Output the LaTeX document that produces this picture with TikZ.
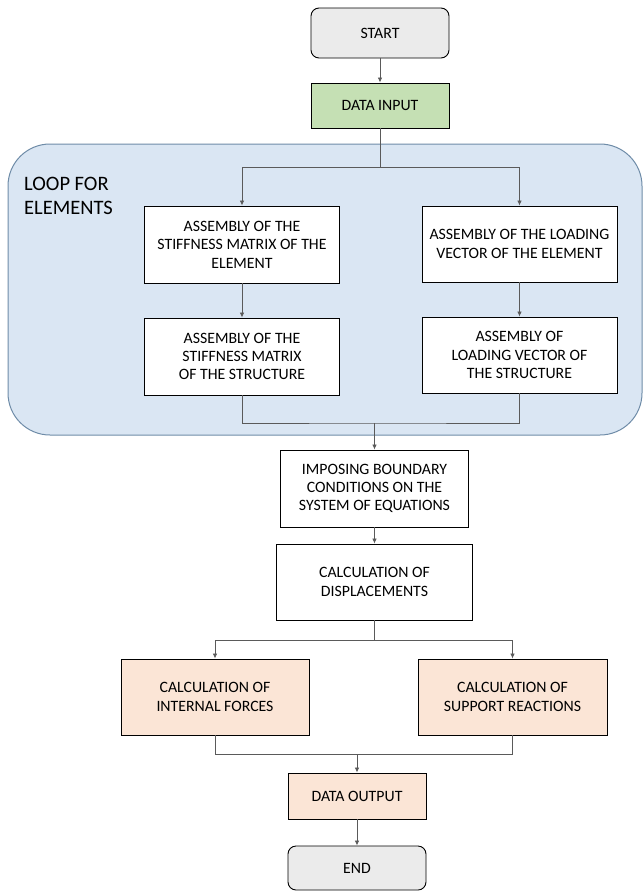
\documentclass[tikz,border=0pt]{standalone}
\usepackage{fontspec}
\setmainfont{Carlito}
\usetikzlibrary{arrows.meta}
\definecolor{termfill}{HTML}{EBEBEB}
\definecolor{greenfill}{HTML}{C5E0B4}
\definecolor{salmonfill}{HTML}{FBE5D6}
\definecolor{loopfill}{HTML}{DAE6F3}
\definecolor{loopdraw}{HTML}{6F8CA8}
\definecolor{conn}{HTML}{5A5A5A}
\tikzset{
  procbox/.style={draw=black, line width=0.9pt, fill=white, align=center, inner sep=0pt,
    font=\fontsize{15.8}{18.4}\selectfont},
  termbox/.style={procbox, fill=termfill, rounded corners=8pt},
  link/.style={draw=conn, line width=0.8pt},
  arr/.style={link, -{Latex[length=5pt,width=4.5pt]}}
}
\begin{document}
\begin{tikzpicture}[x=1pt,y=-1pt]
\useasboundingbox (0,0) rectangle (643,892);
% loop region
\draw[fill=loopfill, draw=loopdraw, line width=1pt, rounded corners=42pt] (8,144) rectangle (642,435);
\node[anchor=north west, inner sep=0pt, align=left, font=\fontsize{20.5}{24}\selectfont] (loop) at (24,177) {LOOP FOR\\ELEMENTS};

\node[termbox, minimum width=138pt, minimum height=50pt] (start) at (380,33) {START};
\node[procbox, fill=greenfill, minimum width=138pt, minimum height=45pt] (data) at (380,105.5) {DATA INPUT};

\node[procbox, minimum width=195pt, minimum height=77pt] (l1) at (242,244.5) {ASSEMBLY OF THE\\STIFFNESS MATRIX OF THE\\ELEMENT};
\node[procbox, minimum width=195pt, minimum height=76pt] (r1) at (519.5,244) {ASSEMBLY OF THE LOADING\\VECTOR OF THE ELEMENT};
\node[procbox, minimum width=195pt, minimum height=77pt] (l2) at (242,356.5) {ASSEMBLY OF THE\\STIFFNESS MATRIX\\OF THE STRUCTURE};
\node[procbox, minimum width=195pt, minimum height=76pt] (r2) at (519.5,355) {ASSEMBLY OF\\LOADING VECTOR OF\\THE STRUCTURE};

\node[procbox, minimum width=188pt, minimum height=77pt] (imp) at (374.5,488.5) {IMPOSING BOUNDARY\\CONDITIONS ON THE\\SYSTEM OF EQUATIONS};
\node[procbox, minimum width=196pt, minimum height=76pt] (disp) at (374.5,582) {CALCULATION OF\\DISPLACEMENTS};

\node[procbox, fill=salmonfill, minimum width=188pt, minimum height=76pt] (intf) at (215,697) {CALCULATION OF\\INTERNAL FORCES};
\node[procbox, fill=salmonfill, minimum width=189pt, minimum height=76pt] (supp) at (512.5,697) {CALCULATION OF\\SUPPORT REACTIONS};

\node[procbox, fill=salmonfill, minimum width=138pt, minimum height=46pt] (out) at (357,796) {DATA OUTPUT};
\node[termbox, minimum width=138pt, minimum height=44pt] (end) at (357,868) {END};

\coordinate (s1) at (380,167);
\coordinate (m1) at (374.5,423);
\coordinate (s2) at (374.5,640);
\coordinate (m2) at (357,754);

\draw[arr] (start) -- (data);
\draw[link] (data) -- (s1);
\draw[arr] (s1) -| (l1);
\draw[arr] (s1) -| (r1);
\draw[arr] (l1) -- (l2);
\draw[arr] (r1) -- (r2);
\draw[link] (l2) |- (m1) -| (r2);
\draw[arr] (m1) -- (imp);
\draw[arr] (imp) -- (disp);
\draw[link] (disp) -- (s2);
\draw[arr] (s2) -| (intf);
\draw[arr] (s2) -| (supp);
\draw[link] (intf) |- (m2) -| (supp);
\draw[arr] (m2) -- (out);
\draw[arr] (out) -- (end);
\end{tikzpicture}
\end{document}
